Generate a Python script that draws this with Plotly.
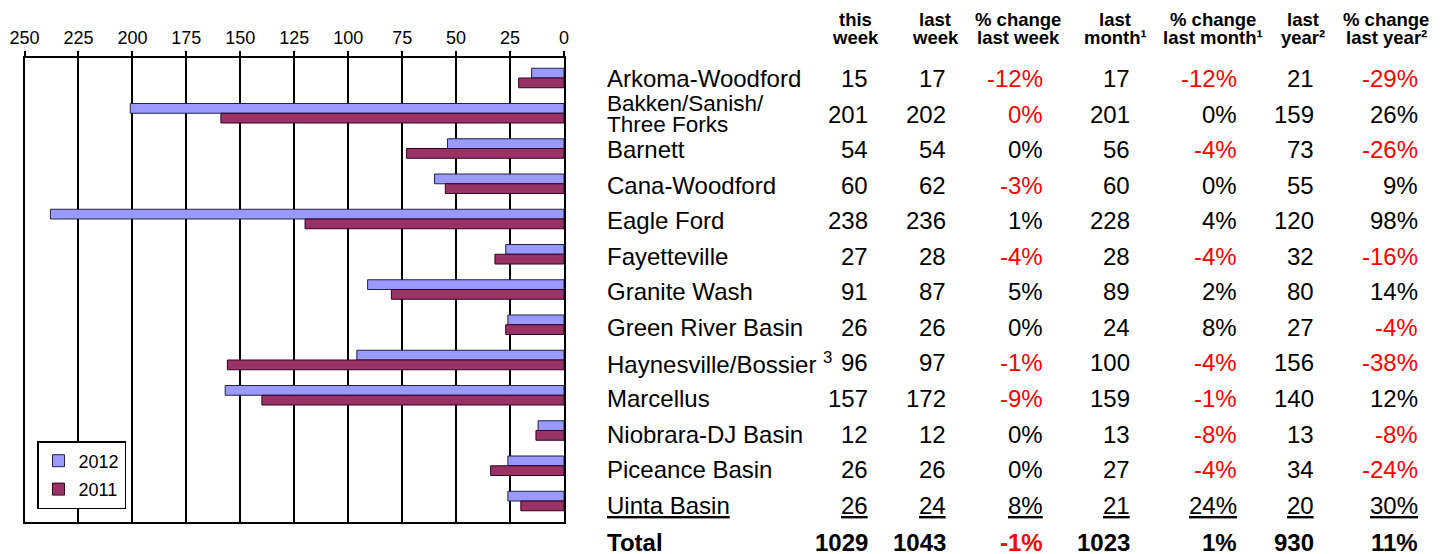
import plotly.graph_objects as go

# ---------------- data ----------------
basins = ["Arkoma-Woodford", "Bakken/Sanish/Three Forks", "Barnett", "Cana-Woodford",
          "Eagle Ford", "Fayetteville", "Granite Wash", "Green River Basin",
          "Haynesville/Bossier", "Marcellus", "Niobrara-DJ Basin", "Piceance Basin",
          "Uinta Basin"]
this_week = [15, 201, 54, 60, 238, 27, 91, 26, 96, 157, 12, 26, 26]
last_week = [17, 202, 54, 62, 236, 28, 87, 26, 97, 172, 12, 26, 24]
pct_last_week = ["-12%", "0%", "0%", "-3%", "1%", "-4%", "5%", "0%", "-1%", "-9%", "0%", "0%", "8%"]
last_month = [17, 201, 56, 60, 228, 28, 89, 24, 100, 159, 13, 27, 21]
pct_last_month = ["-12%", "0%", "-4%", "0%", "4%", "-4%", "2%", "8%", "-4%", "-1%", "-8%", "-4%", "24%"]
last_year = [21, 159, 73, 55, 120, 32, 80, 27, 156, 140, 13, 34, 20]
pct_last_year = ["-29%", "26%", "-26%", "9%", "98%", "-16%", "14%", "-4%", "-38%", "12%", "-8%", "-24%", "30%"]
totals = ["1029", "1043", "-1%", "1023", "1%", "930", "11%"]
x_ticks = [250, 225, 200, 175, 150, 125, 100, 75, 50, 25, 0]
series_names = ["2012", "2011"]

# ---------------- styling ----------------
W, H = 1445, 554
FONT = "Liberation Sans"
BLUE = "#9999FF"
MAROON = "#993366"
RED = "#FF0000"
BLACK = "#000000"


def px_x(x):
    return x / W


def px_y(y):
    return 1 - y / H


fig = go.Figure()
fig.add_trace(go.Bar(name=series_names[0], y=basins, x=this_week, orientation="h",
                     marker=dict(color=BLUE, line=dict(color="#222244", width=1)),
                     legendgroup="a"))
fig.add_trace(go.Bar(name=series_names[1], y=basins, x=last_year, orientation="h",
                     marker=dict(color=MAROON, line=dict(color="#330022", width=1)),
                     legendgroup="b"))

plot_top, plot_bottom = 58, 522
row0, row_step = 78, 35.25
y_top_val = -(row0 - plot_top) / row_step
y_bot_val = (plot_bottom - row0) / row_step

fig.update_layout(
    width=W, height=H,
    margin=dict(l=0, r=0, t=0, b=0, pad=0, autoexpand=False),
    paper_bgcolor="white", plot_bgcolor="white",
    barmode="group", bargap=0.447, bargroupgap=0,
    font=dict(family=FONT, color=BLACK),
    showlegend=True,
    legend=dict(x=px_x(37), y=px_y(441), xanchor="left", yanchor="top",
                bgcolor="white", bordercolor=BLACK, borderwidth=1.5,
                font=dict(family=FONT, size=18, color=BLACK),
                itemwidth=30,
                traceorder="grouped", tracegroupgap=2),
    xaxis=dict(domain=[px_x(24.5), px_x(564)], range=[250, 0], side="top",
               tickvals=x_ticks, ticktext=[str(v) for v in x_ticks],
               showgrid=True, gridcolor=BLACK, gridwidth=2,
               showline=True, linecolor=BLACK, linewidth=2, mirror=True,
               ticks="outside", ticklen=5, tickwidth=2, tickcolor=BLACK,
               tickfont=dict(family=FONT, size=18, color=BLACK),
               zeroline=False, fixedrange=True, automargin=False),
    yaxis=dict(domain=[px_y(plot_bottom), px_y(plot_top)],
               range=[y_bot_val, y_top_val], type="category",
               categoryorder="array", categoryarray=basins,
               showticklabels=False, showgrid=False, ticks="",
               showline=True, linecolor=BLACK, linewidth=2, mirror=True,
               zeroline=False, fixedrange=True, automargin=False),
)

# ---------------- table ----------------
name_x = 605
col_right = [870, 948, 1045, 1132, 1239, 1316, 1420]
head_center = [855, 935, 1018, 1115, 1213, 1303, 1386]
headers = [("this", "week"), ("last", "week"), ("% change", "last week"),
           ("last", "month\u00b9"), ("% change", "last month\u00b9"),
           ("last", "year\u00b2"), ("% change", "last year\u00b2")]
TXT = 24
HDR = 18.5

ann = []
for (l1, l2), cx in zip(headers, head_center):
    ann.append(dict(x=px_x(cx), y=px_y(20), text="<b>%s</b>" % l1, xanchor="center",
                    yanchor="middle", font=dict(size=HDR)))
    ann.append(dict(x=px_x(cx), y=px_y(37), text="<b>%s</b>" % l2, xanchor="center",
                    yanchor="middle", font=dict(size=HDR)))

text_row0, text_step = 78.5, 35.55
n = len(basins)
for i in range(n):
    yc = text_row0 + text_step * i
    underline = (i == n - 1)

    def fmt(s):
        return "<u>%s</u>" % s if underline else s

    if basins[i].startswith("Bakken"):
        ann.append(dict(x=px_x(name_x), y=px_y(yc - 10.5), text="Bakken/Sanish/",
                        xanchor="left", yanchor="middle", font=dict(size=22.5)))
        ann.append(dict(x=px_x(name_x), y=px_y(yc + 10.5), text="Three Forks",
                        xanchor="left", yanchor="middle", font=dict(size=22.5)))
    elif basins[i].startswith("Haynesville"):
        ann.append(dict(x=px_x(name_x), y=px_y(yc), text="Haynesville/Bossier <sup>3</sup>",
                        xanchor="left", yanchor="middle", font=dict(size=TXT)))
    else:
        ann.append(dict(x=px_x(name_x), y=px_y(yc), text=fmt(basins[i]),
                        xanchor="left", yanchor="middle", font=dict(size=TXT)))

    tw = this_week[i]
    cells = [
        (str(tw), BLACK),
        (str(last_week[i]), BLACK),
        (pct_last_week[i], RED if tw < last_week[i] else BLACK),
        (str(last_month[i]), BLACK),
        (pct_last_month[i], RED if tw < last_month[i] else BLACK),
        (str(last_year[i]), BLACK),
        (pct_last_year[i], RED if tw < last_year[i] else BLACK),
    ]
    for (txt, col), rx in zip(cells, col_right):
        ann.append(dict(x=px_x(rx), y=px_y(yc), text=fmt(txt), xanchor="right",
                        yanchor="middle", font=dict(size=TXT, color=col)))

# total row
total_y = 542
tot_this = int(totals[0])
ann.append(dict(x=px_x(name_x), y=px_y(total_y), text="<b>Total</b>", xanchor="left",
                yanchor="middle", font=dict(size=TXT)))
tot_colors = [BLACK, BLACK,
              RED if tot_this < int(totals[1]) else BLACK, BLACK,
              RED if tot_this < int(totals[3]) else BLACK, BLACK,
              RED if tot_this < int(totals[5]) else BLACK]
for txt, col, rx in zip(totals, tot_colors, col_right):
    ann.append(dict(x=px_x(rx), y=px_y(total_y), text="<b>%s</b>" % txt, xanchor="right",
                    yanchor="middle", font=dict(size=TXT, color=col)))

for a in ann:
    a.update(xref="paper", yref="paper", showarrow=False)
    a["font"].setdefault("family", FONT)
    a["font"].setdefault("color", BLACK)
fig.update_layout(annotations=ann)

# place the figure at the page's top-left corner (no default body margin)
fig.write_html("out.html",
               config={"displayModeBar": False},
               post_script="document.body.style.margin='0';"
                           "document.body.style.overflow='hidden';")
